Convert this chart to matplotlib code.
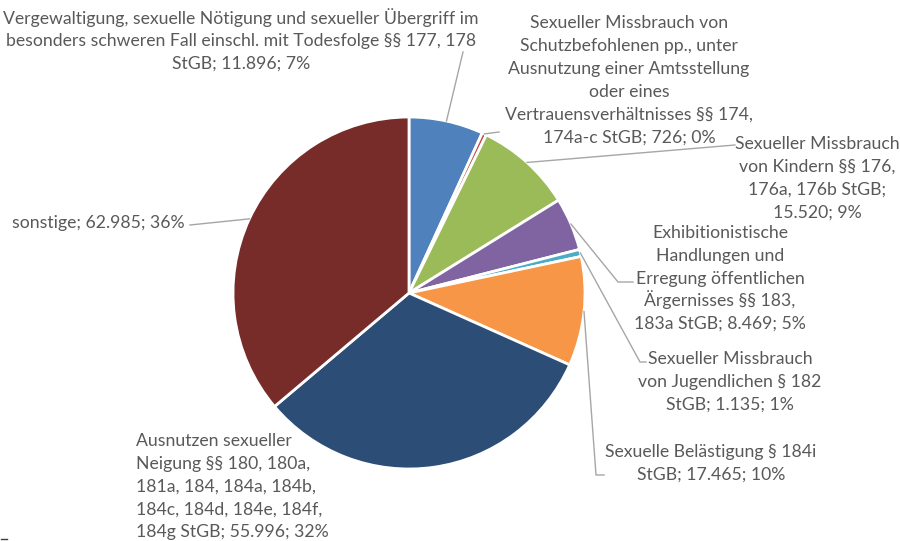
import numpy as np
import matplotlib
matplotlib.use("Agg")
import matplotlib.pyplot as plt
from matplotlib.lines import Line2D

labels = [
    "Vergewaltigung, sexuelle Nötigung und sexueller Übergriff im\nbesonders schweren Fall einschl. mit Todesfolge §§ 177, 178\nStGB",
    "Sexueller Missbrauch von\nSchutzbefohlenen pp., unter\nAusnutzung einer Amtsstellung\noder eines\nVertrauensverhältnisses §§ 174,\n174a-c StGB",
    "Sexueller Missbrauch\nvon Kindern §§ 176,\n176a, 176b StGB;\n",
    "Exhibitionistische\nHandlungen und\nErregung öffentlichen\nÄrgernisses §§ 183,\n183a StGB",
    "Sexueller Missbrauch\nvon Jugendlichen § 182\nStGB",
    "Sexuelle Belästigung § 184i\nStGB",
    "Ausnutzen sexueller\nNeigung §§ 180, 180a,\n181a, 184, 184a, 184b,\n184c, 184d, 184e, 184f,\n184g StGB",
    "sonstige",
]
values = [11896, 726, 15520, 8469, 1135, 17465, 55996, 62985]
value_text = ["11.896", "726", "15.520", "8.469", "1.135", "17.465", "55.996", "62.985"]
colors = ["#4F81BD", "#C0504D", "#9BBB59", "#8064A2", "#4BACC6",
          "#F79646", "#2C4D75", "#772C2A"]

W, H = 900, 541
CX, CY, R = 409, 293, 176

plt.rcParams['font.family'] = ['Lato', 'DejaVu Sans']
fig = plt.figure(figsize=(W / 100, H / 100), dpi=100)
ax = fig.add_axes([(CX - R) / W, (H - CY - R) / H, 2 * R / W, 2 * R / H])

wedges, _ = ax.pie(values, colors=colors, startangle=90, counterclock=False,
                   radius=1, wedgeprops=dict(edgecolor='white', linewidth=2))
ax.set_xlim(-1, 1)
ax.set_ylim(-1, 1)
ax.axis('off')

total = sum(values)
pct = [f"{round(v / total * 100)}%" for v in values]


def edge_pt(i, frac=0.5):
    w = wedges[i]
    th = np.deg2rad(w.theta1 + (w.theta2 - w.theta1) * frac)
    return CX + R * np.cos(th), CY - R * np.sin(th)


def full_label(i):
    lab = labels[i]
    if lab.endswith("\n"):
        return lab + f"{value_text[i]}; {pct[i]}"
    return lab + f"; {value_text[i]}; {pct[i]}"


TXT = "#595959"
FS = 12.7
BOFF = 6.3

# (x, first line centre y, line step, alignment) in pixels
text_pos = [
    (241, 18, 22.0, 'center'),
    (629, 22, 22.8, 'center'),
    (817, 143, 22.7, 'center'),
    (720, 232, 22.7, 'center'),
    (730, 358, 22.7, 'center'),
    (711, 451, 22.7, 'center'),
    (136, 440, 22.8, 'left'),
    (12, 222, 22.7, 'left'),
]
for i, (x, y0, step, ha) in enumerate(text_pos):
    for k, line in enumerate(full_label(i).split("\n")):
        yb = y0 + k * step + BOFF
        fig.text(x / W, 1 - yb / H, line, ha=ha, va='baseline', color=TXT,
                 fontsize=FS)

# leader lines (elbow / end points in pixels)
leaders = {
    0: [(463, 52)],
    1: [(499, 132)],
    2: [(735, 145)],
    3: [(618, 282), (633, 282)],
    4: [(640, 362), (646, 362)],
    5: [(596, 475), (604, 475)],
    7: [(190, 225)],
}
for i, pts in leaders.items():
    sx, sy = edge_pt(i)
    xs = [sx] + [p[0] for p in pts]
    ys = [sy] + [p[1] for p in pts]
    fig.add_artist(Line2D([x / W for x in xs], [1 - y / H for y in ys],
                          transform=fig.transFigure, color="#A6A6A6", linewidth=1))

fig.add_artist(Line2D([1 / W, 7 / W], [1 - 539 / H, 1 - 539 / H],
                      transform=fig.transFigure, color="#404040", linewidth=1))

fig.savefig("out.png", dpi=100, facecolor='white')
